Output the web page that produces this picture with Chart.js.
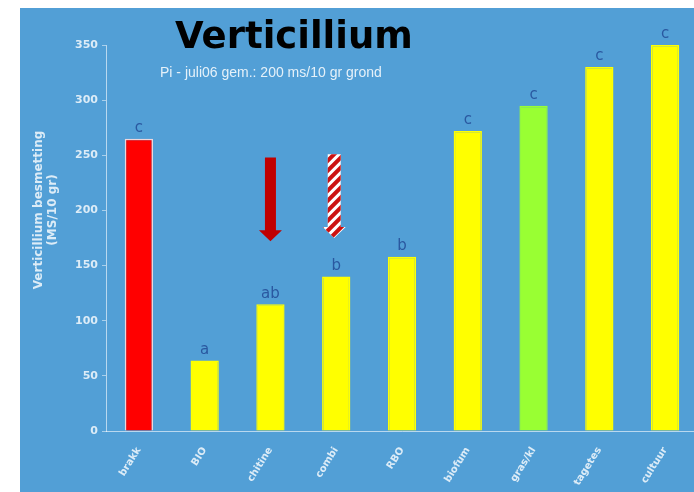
<!DOCTYPE html>
<html><head><meta charset="utf-8">
<script src="https://cdn.jsdelivr.net/npm/chart.js@4/dist/chart.umd.min.js"></script>
<style>
html,body{margin:0;padding:0;background:#fff;overflow:hidden;width:694px;height:492px;}
#wrap{position:absolute;left:20px;top:8px;width:680px;height:484px;background:#529fd6;}
</style></head><body>
<div id="wrap"><canvas id="c" width="680" height="484"></canvas></div>
<script>
const categories = ["brakk","BIO","chitine","combi","RBO","biofum","gras/kl","tagetes","cultuur"];
const values = [265, 64, 115, 140, 158, 272, 295, 330, 350];
const letters = ["c","a","ab","b","b","c","c","c","c"];
const barColors = ["#ff0000","#ffff00","#ffff00","#ffff00","#ffff00","#ffff00","#99ff33","#ffff00","#ffff00"];
const yTicks = [0,50,100,150,200,250,300,350];
const titleText = "Verticillium";
const subtitleText = "Pi - juli06 gem.: 200 ms/10 gr grond";
const yTitle = ["Verticillium besmetting", "(MS/10 gr)"];
// arrows: [category index, start value, tip value, style]
const arrows = [[2, 248, 172, "solid"], [3, 251, 175, "striped"]];

const deco = {
  id: 'deco',
  afterDatasetsDraw(chart) {
    const ctx = chart.ctx, x = chart.scales.x, y = chart.scales.y;
    ctx.save();
    // letters
    ctx.fillStyle = "#2a58a0";
    ctx.font = "15px 'DejaVu Sans', sans-serif";
    ctx.textAlign = "center"; ctx.textBaseline = "bottom";
    letters.forEach((l, i) => ctx.fillText(l, x.getPixelForValue(i), y.getPixelForValue(values[i]) - 3));
    // arrows
    arrows.forEach(([ci, v0, v1, style]) => {
      const cx = x.getPixelForValue(ci) - (style === "striped" ? 2 : 0);
      const y0 = y.getPixelForValue(v0), y1 = y.getPixelForValue(v1);
      const sw = style === "striped" ? 6.5 : 5.5, hw = 11.5, hh = 11;
      ctx.beginPath();
      ctx.moveTo(cx - sw, y0); ctx.lineTo(cx + sw, y0); ctx.lineTo(cx + sw, y1 - hh);
      ctx.lineTo(cx + hw, y1 - hh); ctx.lineTo(cx, y1); ctx.lineTo(cx - hw, y1 - hh);
      ctx.lineTo(cx - sw, y1 - hh); ctx.closePath();
      if (style === "solid") { ctx.fillStyle = "#c00000"; ctx.fill(); }
      else {
        ctx.fillStyle = "#ffffff"; ctx.fill();
        ctx.save(); ctx.clip();
        ctx.strokeStyle = "#cc1111"; ctx.lineWidth = 4;
        for (let k = -30; k < (y1 - y0) + 30; k += 10) {
          ctx.beginPath(); ctx.moveTo(cx - 15, y0 + k + 15); ctx.lineTo(cx + 15, y0 + k - 15); ctx.stroke();
        }
        ctx.restore();
      }
    });
    // title
    ctx.fillStyle = "#000";
    ctx.font = "bold 37px 'DejaVu Sans', sans-serif";
    ctx.textAlign = "left"; ctx.textBaseline = "alphabetic";
    ctx.fillText(titleText, 155, 40);
    // subtitle
    ctx.fillStyle = "rgba(255,255,255,0.85)";
    ctx.font = "14px 'Liberation Sans Narrow', 'Liberation Sans', sans-serif";
    ctx.fillText(subtitleText, 140, 69, 226);
    // y title
    ctx.translate(19, 202); ctx.rotate(-Math.PI / 2);
    ctx.fillStyle = "rgba(255,255,255,0.8)";
    ctx.font = "bold 12px 'DejaVu Sans', sans-serif";
    ctx.textAlign = "center"; ctx.textBaseline = "middle";
    ctx.fillText(yTitle[0], 0, 0); ctx.fillText(yTitle[1], 0, 14);
    ctx.restore();
  }
};

new Chart(document.getElementById('c'), {
  type: 'bar',
  data: { labels: categories, datasets: [{ data: values, backgroundColor: barColors,
    borderColor: barColors.map((c, i) => i === 0 ? "rgba(255,220,220,0.9)" : c), borderWidth: 1.5,
    categoryPercentage: 1, barPercentage: 0.43 }] },
  options: {
    responsive: false, animation: false, devicePixelRatio: 1,
    layout: { padding: { top: 37, right: 2, left: 0, bottom: 0 } },
    plugins: { legend: { display: false }, tooltip: { enabled: false } },
    scales: {
      x: { grid: { display: false, drawTicks: false }, border: { color: "rgba(255,255,255,0.6)" },
        ticks: { color: "rgba(255,255,255,0.8)", font: { size: 10, weight: 'bold', family: "'DejaVu Sans', sans-serif" },
          minRotation: 58, maxRotation: 58, padding: 14 },
        afterFit(s) { s.height = 61; } },
      y: { min: 0, max: 350, afterBuildTicks(s) { s.ticks = yTicks.map(v => ({ value: v })); },
        grid: { display: true, drawOnChartArea: false, tickLength: 4, color: "rgba(255,255,255,0.5)" },
        border: { color: "rgba(255,255,255,0.6)" },
        ticks: { color: "rgba(255,255,255,0.8)", font: { size: 11, weight: 'bold', family: "'DejaVu Sans', sans-serif" }, padding: 4 },
        afterFit(s) { s.width = 86; } }
    }
  },
  plugins: [deco]
});
</script></body></html>
